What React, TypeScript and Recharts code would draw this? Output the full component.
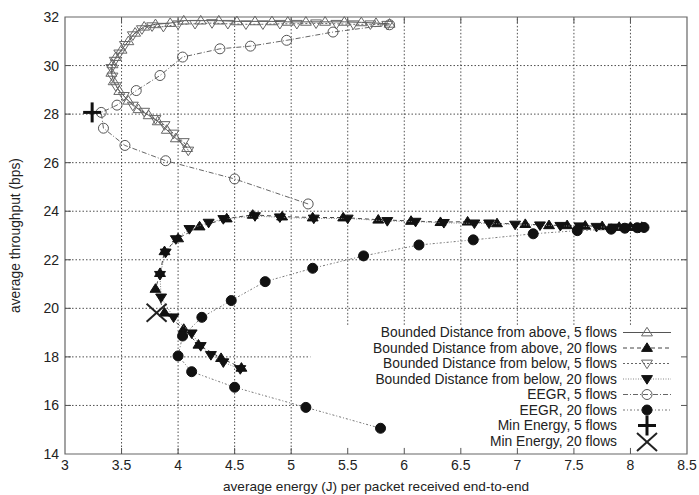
import React from 'react';
import { ScatterChart, Scatter, XAxis, YAxis, ReferenceLine, ReferenceArea, Label } from 'recharts';

const FONT = '"Liberation Sans", Arial, Helvetica, sans-serif';

// energy (J) / throughput (bps) per run, ordered along each curve
const aboveFiveX = [5.87, 5.75, 5.62, 5.47, 5.3, 5.13, 4.97, 4.83, 4.68, 4.52, 4.36, 4.2, 4.05, 3.93, 3.8, 3.7, 3.62, 3.56, 3.5, 3.45, 3.42, 3.41, 3.43, 3.48, 3.56, 3.65, 3.74, 3.82, 3.9, 3.98, 4.08];
const aboveFiveY = [31.72, 31.75, 31.78, 31.8, 31.8, 31.8, 31.8, 31.82, 31.82, 31.82, 31.85, 31.85, 31.85, 31.75, 31.7, 31.6, 31.35, 31.0, 30.65, 30.35, 30.05, 29.7, 29.35, 28.95, 28.55, 28.2, 27.95, 27.7, 27.35, 27.0, 26.6];

const belowFiveX = [5.85, 5.7, 5.55, 5.4, 5.22, 5.05, 4.9, 4.75, 4.6, 4.44, 4.3, 4.15, 4.0, 3.87, 3.77, 3.68, 3.6, 3.53, 3.48, 3.44, 3.41, 3.42, 3.45, 3.52, 3.6, 3.7, 3.8, 3.88, 3.96, 4.05, 4.09];
const belowFiveY = [31.68, 31.7, 31.7, 31.72, 31.74, 31.72, 31.72, 31.7, 31.7, 31.72, 31.75, 31.72, 31.7, 31.6, 31.62, 31.5, 31.25, 30.85, 30.5, 30.2, 29.9, 29.55, 29.15, 28.75, 28.35, 28.1, 27.8, 27.55, 27.2, 26.85, 26.5];

const aboveTwentyX = [8.1, 8.0, 7.9, 7.75, 7.6, 7.44, 7.28, 7.07, 6.82, 6.56, 6.32, 6.06, 5.77, 5.46, 5.19, 4.92, 4.66, 4.43, 4.19, 4.0, 3.88, 3.84, 3.8, 3.88, 4.05, 4.18, 4.38, 4.56];
const aboveTwentyY = [23.35, 23.35, 23.35, 23.38, 23.4, 23.42, 23.42, 23.47, 23.5, 23.57, 23.55, 23.6, 23.65, 23.74, 23.74, 23.78, 23.85, 23.7, 23.37, 22.88, 22.35, 21.45, 20.8, 19.82, 19.15, 18.5, 17.95, 17.55];

const belowTwentyX = [8.08, 7.97, 7.85, 7.7, 7.55, 7.38, 7.2, 6.98, 6.75, 6.62, 6.35, 6.1, 5.85, 5.5, 5.2, 4.9, 4.68, 4.4, 4.27, 4.1, 3.98, 3.89, 3.84, 3.85, 3.96, 4.12, 4.2, 4.29, 4.4, 4.55];
const belowTwentyY = [23.32, 23.33, 23.33, 23.36, 23.38, 23.4, 23.42, 23.45, 23.5, 23.5, 23.52, 23.57, 23.6, 23.7, 23.7, 23.75, 23.8, 23.68, 23.53, 23.27, 22.85, 22.3, 21.38, 20.45, 19.63, 18.97, 18.45, 18.08, 17.78, 17.5];

const eegrFiveX = [5.87, 5.37, 4.96, 4.64, 4.37, 4.04, 3.84, 3.63, 3.46, 3.32, 3.34, 3.53, 3.89, 4.5, 5.15];
const eegrFiveY = [31.68, 31.38, 31.04, 30.8, 30.69, 30.35, 29.59, 28.97, 28.37, 28.07, 27.42, 26.71, 26.08, 25.33, 24.3];

const eegrTwentyX = [8.12, 8.06, 7.95, 7.83, 7.53, 7.14, 6.61, 6.13, 5.64, 5.19, 4.77, 4.47, 4.21, 4.04, 4.0, 4.12, 4.5, 5.13, 5.79];
const eegrTwentyY = [23.33, 23.32, 23.3, 23.26, 23.2, 23.07, 22.82, 22.61, 22.16, 21.65, 21.1, 20.32, 19.63, 18.86, 18.04, 17.39, 16.75, 15.92, 15.06];

const minEnergyFive = { x: 3.24, y: 28.07 };
const minEnergyTwenty = { x: 3.81, y: 19.82 };

const xTicks = [3, 3.5, 4, 4.5, 5, 5.5, 6, 6.5, 7, 7.5, 8, 8.5];
const yTicks = [14, 16, 18, 20, 22, 24, 26, 28, 30, 32];

const seriesNames = [
  'Bounded Distance from above, 5 flows',
  'Bounded Distance from above, 20 flows',
  'Bounded Distance from below, 5 flows',
  'Bounded Distance from below, 20 flows',
  'EEGR, 5 flows',
  'EEGR, 20 flows',
  'Min Energy, 5 flows',
  'Min Energy, 20 flows',
];

// corner of the key box; grid lines stop at it
const KEY_LEFT = 5.17;
const KEY_TOP = 19.32;

const zip = (xs: number[], ys: number[]) => xs.map((x, i) => ({ x, y: ys[i] }));

type MarkerKind = 'triUp' | 'triDown' | 'circle' | 'plus' | 'cross';

function Marker({ kind, cx, cy, filled, color }: { kind: MarkerKind; cx: number; cy: number; filled?: boolean; color: string }) {
  const fill = filled ? color : 'none';
  if (kind === 'triUp') {
    const s = 5.2;
    return <polygon points={`${cx},${cy - s} ${cx + s * 1.05},${cy + s * 0.65} ${cx - s * 1.05},${cy + s * 0.65}`} fill={fill} stroke={color} strokeWidth={1} />;
  }
  if (kind === 'triDown') {
    const s = 5.2;
    return <polygon points={`${cx},${cy + s} ${cx + s * 1.05},${cy - s * 0.65} ${cx - s * 1.05},${cy - s * 0.65}`} fill={fill} stroke={color} strokeWidth={1} />;
  }
  if (kind === 'circle') {
    return <circle cx={cx} cy={cy} r={5} fill={filled ? color : 'none'} stroke={color} strokeWidth={1} />;
  }
  if (kind === 'plus') {
    return (
      <g stroke={color} strokeWidth={3}>
        <line x1={cx - 9} y1={cy} x2={cx + 9} y2={cy} />
        <line x1={cx} y1={cy - 10} x2={cx} y2={cy + 10} />
      </g>
    );
  }
  return (
    <g stroke={color} strokeWidth={2}>
      <line x1={cx - 10} y1={cy - 9} x2={cx + 10} y2={cy + 9} />
      <line x1={cx - 10} y1={cy + 9} x2={cx + 10} y2={cy - 9} />
    </g>
  );
}

const styles: { kind: MarkerKind; filled: boolean; color: string; line: string; dash?: string; lineWidth: number }[] = [
  { kind: 'triUp', filled: false, color: '#666', line: '#555', lineWidth: 1 },
  { kind: 'triUp', filled: true, color: '#111', line: '#444', dash: '4 3', lineWidth: 1 },
  { kind: 'triDown', filled: false, color: '#666', line: '#666', dash: '2 2', lineWidth: 1 },
  { kind: 'triDown', filled: true, color: '#111', line: '#888', dash: '1 1.5', lineWidth: 1 },
  { kind: 'circle', filled: false, color: '#555', line: '#666', dash: '5 2 1 2', lineWidth: 1 },
  { kind: 'circle', filled: true, color: '#111', line: '#777', dash: '2 2 1 2', lineWidth: 1 },
  { kind: 'plus', filled: false, color: '#111', line: 'none', lineWidth: 0 },
  { kind: 'cross', filled: false, color: '#222', line: 'none', lineWidth: 0 },
];

const seriesData = [
  zip(aboveFiveX, aboveFiveY),
  zip(aboveTwentyX, aboveTwentyY),
  zip(belowFiveX, belowFiveY),
  zip(belowTwentyX, belowTwentyY),
  zip(eegrFiveX, eegrFiveY),
  zip(eegrTwentyX, eegrTwentyY),
  [minEnergyFive],
  [minEnergyTwenty],
];

const gridStyle = { stroke: '#222', strokeWidth: 0.8, strokeDasharray: '1.5 2' };

function KeyBox() {
  const textRight = 617;
  const sampleX1 = 623;
  const sampleX2 = 671;
  const markX = 647;
  return (
    <svg width={699} height={495} style={{ position: 'absolute', left: 0, top: 0, pointerEvents: 'none' }}>
      {seriesNames.map((name, i) => {
        const y = 332.5 + i * 15.5;
        const st = styles[i];
        return (
          <g key={name}>
            <text x={textRight} y={y} textAnchor="end" dominantBaseline="central" fontSize={13.8} fontFamily={FONT} fill="#222">
              {name}
            </text>
            {st.line !== 'none' && (
              <line x1={sampleX1} y1={y} x2={sampleX2} y2={y} stroke={st.line} strokeWidth={st.lineWidth} strokeDasharray={st.dash} />
            )}
            <Marker kind={st.kind} cx={markX} cy={y + (st.kind === 'cross' ? 1 : 0)} filled={st.filled} color={st.color} />
          </g>
        );
      })}
    </svg>
  );
}

function YTitle(props: any) {
  const vb = props.viewBox || {};
  const cy = (vb.y ?? 17) + (vb.height ?? 437) / 2;
  return (
    <text x={15} y={cy} transform={`rotate(-90 15 ${cy})`} textAnchor="middle" dominantBaseline="central" fontSize={13.8} fontFamily={FONT} fill="#222">
      average throughput (bps)
    </text>
  );
}

function XTitle(props: any) {
  const vb = props.viewBox || {};
  const cx = (vb.x ?? 65) + (vb.width ?? 622) / 2;
  return (
    <text x={cx} y={486} textAnchor="middle" dominantBaseline="central" fontSize={13.6} fontFamily={FONT} fill="#222">
      average energy (J) per packet received end-to-end
    </text>
  );
}

export default function App() {
  return (
    <div style={{ position: 'absolute', left: 0, top: 0, width: 699, height: 495, background: '#fff' }}>
      <ScatterChart width={699} height={495} margin={{ top: 17, right: 12, left: 0, bottom: 0 }}>
        <XAxis
          type="number"
          dataKey="x"
          domain={[3, 8.5]}
          ticks={xTicks}
          axisLine={false}
          tickLine={false}
          tickSize={4}
          height={41}
          tick={{ fontSize: 14, fill: '#222', fontFamily: FONT }}
        >
          <Label content={XTitle} />
        </XAxis>
        <YAxis
          type="number"
          dataKey="y"
          domain={[14, 32]}
          ticks={yTicks}
          axisLine={false}
          tickLine={false}
          tickSize={4}
          width={65}
          tick={{ fontSize: 14, fill: '#222', fontFamily: FONT }}
        >
          <Label content={YTitle} />
        </YAxis>

        {xTicks.slice(1, -1).map((x) => (
          <ReferenceLine
            key={`gx${x}`}
            segment={[{ x, y: x > KEY_LEFT ? KEY_TOP : 14 }, { x, y: 32 }]}
            {...gridStyle}
          />
        ))}
        {yTicks.slice(1, -1).map((y) => (
          <ReferenceLine
            key={`gy${y}`}
            segment={[{ x: 3, y }, { x: y < KEY_TOP ? KEY_LEFT : 8.5, y }]}
            {...gridStyle}
          />
        ))}

        {/* inward tick marks on all four sides */}
        {xTicks.slice(1, -1).map((x) => (
          <ReferenceLine key={`tb${x}`} segment={[{ x, y: 14 }, { x, y: 14.25 }]} stroke="#555" strokeWidth={1} />
        ))}
        {xTicks.slice(1, -1).map((x) => (
          <ReferenceLine key={`tt${x}`} segment={[{ x, y: 31.75 }, { x, y: 32 }]} stroke="#555" strokeWidth={1} />
        ))}
        {yTicks.slice(1, -1).map((y) => (
          <ReferenceLine key={`tl${y}`} segment={[{ x: 3, y }, { x: 3.053, y }]} stroke="#555" strokeWidth={1} />
        ))}
        {yTicks.slice(1, -1).map((y) => (
          <ReferenceLine key={`tr${y}`} segment={[{ x: 8.447, y }, { x: 8.5, y }]} stroke="#555" strokeWidth={1} />
        ))}

        <ReferenceArea x1={3} x2={8.5} y1={14} y2={32} fill="none" fillOpacity={0} stroke="#666" strokeWidth={1.2} />

        {seriesData.map((data, i) => {
          const st = styles[i];
          return (
            <Scatter
              key={seriesNames[i]}
              name={seriesNames[i]}
              data={data}
              isAnimationActive={false}
              line={st.line !== 'none' ? { stroke: st.line, strokeWidth: st.lineWidth, strokeDasharray: st.dash } : false}
              lineType="joint"
              shape={(p: any) => <Marker kind={st.kind} cx={p.cx} cy={p.cy} filled={st.filled} color={st.color} />}
            />
          );
        })}
      </ScatterChart>
      <KeyBox />
    </div>
  );
}
